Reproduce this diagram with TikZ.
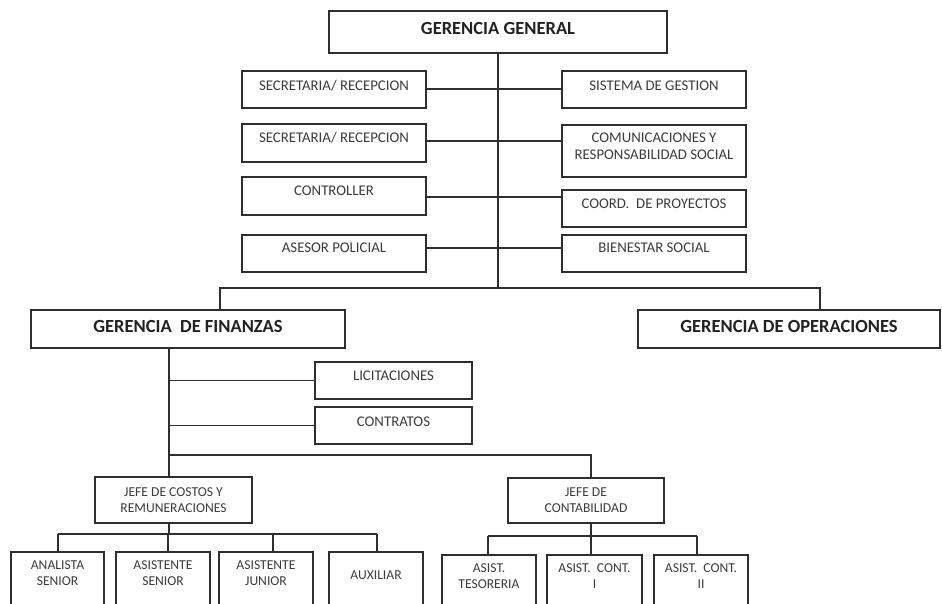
\documentclass[tikz,border=0pt]{standalone}
\usepackage{fontspec}
\setmainfont{Carlito}
\definecolor{linec}{HTML}{2E2E2E}
\definecolor{textc}{HTML}{3C3C3C}
\definecolor{titlec}{HTML}{222222}
\tikzset{
  box/.style={draw=linec, line width=1.3pt, fill=white, inner sep=0pt},
  ttl/.style={font=\bfseries\fontsize{18.5}{21}\selectfont, text=titlec},
  mid/.style={font=\fontsize{14.8}{17.5}\selectfont, text=textc, align=center},
  sml/.style={font=\fontsize{13.6}{16}\selectfont, text=textc, align=center},
  link/.style={draw=linec, line width=1.3pt},
}
% #1 name, #2 x1, #3 y1, #4 x2, #5 y2, #6 text style, #7 text shift up, #8 text
\newcommand{\orgbox}[8]{%
  \node[box, minimum width={(#4-#2)*1pt}, minimum height={(#5-#3)*1pt},
        label={[#6, yshift=#7pt]center:{#8}}] (#1) at ({(#2+#4)/2},{(#3+#5)/2}) {};}
\begin{document}
\begin{tikzpicture}[x=1pt,y=-1pt]
\useasboundingbox (0,0) rectangle (942,604);
\fill[white] (0,0) rectangle (942,604);
\clip (0,0) rectangle (942,604);

\orgbox{gg}{329}{11}{667}{53}{ttl}{4}{GERENCIA GENERAL}
\orgbox{sr1}{242}{71}{426}{108}{mid}{4}{SECRETARIA/ RECEPCION}
\orgbox{sg}{562}{71}{746}{108}{mid}{3.5}{SISTEMA DE GESTION}
\orgbox{sr2}{242}{124}{426}{162}{mid}{5.5}{SECRETARIA/ RECEPCION}
\orgbox{com}{562}{125}{746}{177}{mid}{5}{COMUNICACIONES Y\\RESPONSABILIDAD SOCIAL}
\orgbox{ctl}{242}{177}{426}{215}{mid}{5}{CONTROLLER}
\orgbox{crd}{562}{190}{746}{227}{mid}{5}{COORD.\ \ DE PROYECTOS}
\orgbox{ase}{242}{235}{426}{272}{mid}{5.5}{ASESOR POLICIAL}
\orgbox{bie}{562}{235}{746}{272}{mid}{5.5}{BIENESTAR SOCIAL}
\orgbox{gf}{31}{310}{345}{348}{ttl}{3}{GERENCIA\ \ DE FINANZAS}
\orgbox{go}{638}{310}{940}{348}{ttl}{3}{GERENCIA DE OPERACIONES}
\orgbox{lic}{315}{362}{472}{399}{mid}{4.5}{LICITACIONES}
\orgbox{ctr}{315}{407}{472}{444}{mid}{4}{CONTRATOS}
\orgbox{jco}{95}{477}{252}{523}{sml}{0}{JEFE DE COSTOS Y\\REMUNERACIONES}
\orgbox{jc}{508}{478}{664}{523}{sml}{0}{JEFE DE\\CONTABILIDAD}
\orgbox{an}{11}{552}{104}{612}{sml}{9}{ANALISTA\\SENIOR}
\orgbox{as}{116}{552}{210}{612}{sml}{9}{ASISTENTE\\SENIOR}
\orgbox{aj}{219}{552}{313}{612}{sml}{9}{ASISTENTE\\JUNIOR}
\orgbox{ax}{329}{552}{423}{612}{sml}{7}{AUXILIAR}
\orgbox{at}{442}{555}{536}{612}{sml}{7.5}{ASIST.\\TESORERIA}
\orgbox{c1}{547}{555}{642}{612}{sml}{7.5}{ASIST.\ \ CONT.\\I}
\orgbox{c2}{654}{555}{748}{612}{sml}{7.5}{ASIST.\ \ CONT.\\II}

% top level
\coordinate (b1l) at (220,288);
\coordinate (b1r) at (820,288);
\draw[link] (gg.south) -- (gg.south |- b1l);
\draw[link] (sr1.east |- 0,89) -- (sg.west |- 0,89);
\draw[link] (sr2.east |- 0,141) -- (com.west |- 0,141);
\draw[link] (ctl.east |- 0,197) -- (crd.west |- 0,197);
\draw[link] (ase.east |- 0,248) -- (bie.west |- 0,248);
\draw[link] (gf.north -| b1l) -- (b1l) -- (b1r) -- (go.north -| b1r);

% finanzas
\coordinate (f1) at (169,455);
\coordinate (f2) at (591,455);
\draw[link] (gf.south -| f1) -- (f1) -- (f2) -- (jc.north -| f2);
\draw[link] (lic.west) -- (lic.west -| f1);
\draw[link] (ctr.west) -- (ctr.west -| f1);
\draw[link] (f1) -- (jco.north -| f1);

% costos
\coordinate (d1) at (58,534);
\coordinate (d2) at (168,534);
\coordinate (d3) at (273,534);
\coordinate (d4) at (377,534);
\draw[link] (jco.south -| f1) -- (f1 |- d1);
\draw[link] (d1) -- (d4);
\draw[link] (d1) -- (an.north -| d1);
\draw[link] (d2) -- (as.north -| d2);
\draw[link] (d3) -- (aj.north -| d3);
\draw[link] (d4) -- (ax.north -| d4);

% contabilidad
\coordinate (e1) at (488,536);
\coordinate (e2) at (591,536);
\coordinate (e3) at (697,536);
\draw[link] (jc.south -| e2) -- (e2);
\draw[link] (e1) -- (e3);
\draw[link] (e1) -- (at.north -| e1);
\draw[link] (e2) -- (c1.north -| e2);
\draw[link] (e3) -- (c2.north -| e3);
\end{tikzpicture}
\end{document}
